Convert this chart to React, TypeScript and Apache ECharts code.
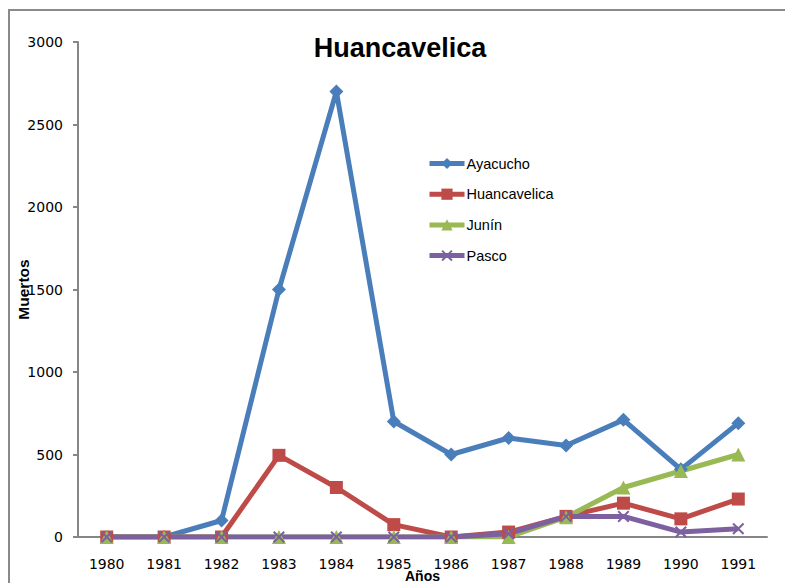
import React, { useEffect, useRef } from "react";
import * as echarts from "echarts";

const years = ["1980", "1981", "1982", "1983", "1984", "1985", "1986", "1987", "1988", "1989", "1990", "1991"];
const ayacucho = [0, 0, 100, 1500, 2700, 700, 500, 600, 555, 710, 410, 690];
const huancavelica = [0, 0, 0, 495, 300, 75, 0, 30, 125, 205, 110, 230];
const junin = [0, 0, 0, 0, 0, 0, 0, 0, 120, 300, 400, 500];
const pasco = [0, 0, 0, 0, 0, 0, 0, 20, 125, 125, 30, 50];

const xPath = "path://M0,1.2 L1.2,0 L5,3.8 L8.8,0 L10,1.2 L6.2,5 L10,8.8 L8.8,10 L5,6.2 L1.2,10 L0,8.8 L3.8,5 Z";

export default function App() {
  const ref = useRef<HTMLDivElement>(null);
  useEffect(() => {
    if (!ref.current) return;
    const chart = echarts.init(ref.current, undefined, { renderer: "svg" });
    const mk = (name: string, data: number[], color: string, symbol: string, size: number) => ({
      name,
      type: "line",
      data,
      symbol,
      symbolSize: size,
      showAllSymbol: true,
      lineStyle: { color, width: 5 },
      itemStyle: { color },
    });
    chart.setOption({
      animation: false,
      backgroundColor: "#fff",
      title: {
        text: "Huancavelica",
        left: 395,
        top: 29,
        textAlign: "center",
        textStyle: { fontFamily: "Liberation Sans", fontWeight: "bold", fontSize: 27, color: "#000" },
      },
      graphic: [
        {
          type: "rect",
          shape: { x: 9, y: 10, width: 900, height: 700 },
          style: { fill: "none", stroke: "#8a8a8a", lineWidth: 2 },
          z: -1,
        },
      ],
      legend: {
        orient: "vertical",
        left: 427,
        top: 156,
        padding: 0,
        itemWidth: 35,
        itemHeight: 14,
        itemGap: 15.7,
        lineStyle: { width: 5 },
        textStyle: { fontFamily: "Liberation Sans", fontSize: 14.5, color: "#000", padding: [0, 0, 0, -3] },
        data: ["Ayacucho", "Huancavelica", "Junín", "Pasco"],
      },
      grid: { left: 78, right: 18, top: 42, bottom: 46, outerBoundsMode: "none", containLabel: false },
      xAxis: {
        type: "category",
        data: years,
        boundaryGap: true,
        name: "Años",
        nameLocation: "middle",
        nameGap: 32,
        nameMoveOverlap: false,
        nameTextStyle: { fontFamily: "Liberation Sans", fontWeight: "bold", fontSize: 14, color: "#000" },
        axisLine: { lineStyle: { color: "#868686", width: 2 } },
        axisTick: { show: false },
        axisLabel: { fontFamily: "DejaVu Sans", fontSize: 14, color: "#000", margin: 20 },
      },
      yAxis: {
        type: "value",
        min: 0,
        max: 3000,
        interval: 500,
        name: "Muertos",
        nameLocation: "middle",
        nameGap: 47,
        nameMoveOverlap: false,
        nameTextStyle: { fontFamily: "Liberation Sans", fontWeight: "bold", fontSize: 15.5, color: "#000" },
        axisLine: { show: true, lineStyle: { color: "#868686", width: 2 } },
        axisTick: { show: true, length: 5, lineStyle: { color: "#868686", width: 2 } },
        splitLine: { show: false },
        axisLabel: { fontFamily: "DejaVu Sans", fontSize: 14, color: "#000", margin: 15, formatter: (v: number) => String(v) },
      },
      series: [
        mk("Ayacucho", ayacucho, "#4a7ebb", "diamond", 14),
        mk("Huancavelica", huancavelica, "#be4b48", "rect", 13),
        mk("Junín", junin, "#98b954", "triangle", 14),
        mk("Pasco", pasco, "#7d60a0", xPath, 12),
      ],
    });
    return () => chart.dispose();
  }, []);
  return <div ref={ref} style={{ position: "fixed", left: 0, top: 0, width: 785, height: 583 }} />;
}
